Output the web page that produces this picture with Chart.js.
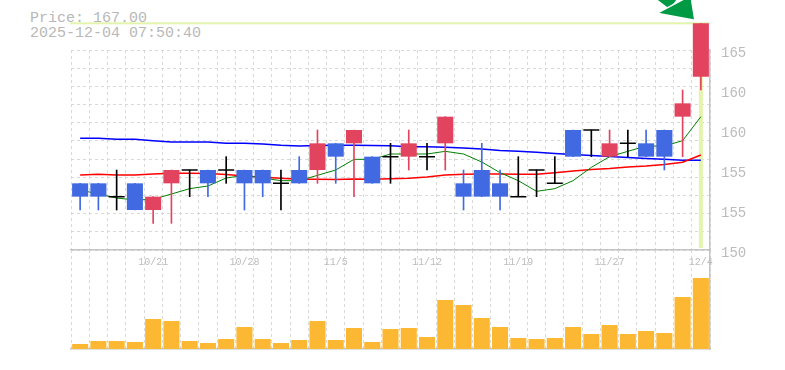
<!DOCTYPE html>
<html><head><meta charset="utf-8">
<script src="https://cdn.jsdelivr.net/npm/chart.js@4.4.1/dist/chart.umd.min.js"></script>
<style>
html,body{margin:0;padding:0;background:#fff;}
#wrap{position:relative;width:785px;height:370px;overflow:hidden;background:#fff;}
#wrap canvas{position:absolute;left:0;top:0;}
#hdr{position:absolute;left:30px;top:11px;font:15px/15px "Liberation Mono",monospace;color:#b8b8b8;white-space:pre;}
</style></head><body>
<div id="wrap">
<div id="hdr"><div id="hPrice"></div><div id="hTime"></div></div>
<canvas id="vol" width="785" height="370"></canvas>
<canvas id="price" width="785" height="370"></canvas>
</div>
<script>
// ---- data ----
const dates = ['10/15','10/16','10/17','10/20','10/21','10/22','10/23','10/24','10/27','10/28','10/29','10/30','10/31','11/4','11/5','11/6','11/7','11/10','11/11','11/12','11/13','11/14','11/17','11/18','11/19','11/20','11/21','11/25','11/26','11/27','11/28','12/1','12/2','12/3','12/4'];
const opens  = [155,155,154,155,153,155,156,156,156,156,156,155,156,156,158,158,157,157,157,157,158,155,156,155,154,156,155,159,159,157,158,158,159,160,163];
const highs  = [155,155,156,155,154,156,156,156,157,156,156,156,157,159,158,159,157,158,159,158,160,156,158,156,157,156,157,159,159,159,159,159,159,162,167];
const lows   = [153,153,153,153,152,152,154,154,155,153,154,153,155,155,155,154,155,155,156,156,156,153,154,153,154,154,155,157,157,157,157,157,156,157,162];
const closes = [154,154,154,153,154,156,156,155,156,155,155,155,155,158,157,159,155,157,158,157,160,154,154,154,154,156,155,157,159,158,158,157,157,161,167];
const volumes = [5000,8000,8000,7000,30000,28000,8000,6000,10000,22000,10000,6000,9000,28000,9000,21000,7000,20000,21000,12000,49000,44000,31000,22000,11000,10000,11000,22000,15000,24000,15000,18000,16000,52000,71000];
const ma5  = [154.5,154.2,153.9,153.75,153.8,154.2,154.6,154.8,155.4,155.6,155.4,155.2,155.2,155.6,156.0,156.8,156.8,157.2,157.2,157.2,157.4,157.2,156.6,155.8,155.2,154.4,154.6,155.2,156.2,157.0,157.4,157.8,157.8,158.2,160.0];
const ma25 = [155.63,155.68,155.63,155.63,155.70,155.75,155.75,155.74,155.66,155.55,155.45,155.38,155.30,155.30,155.29,155.33,155.30,155.34,155.38,155.48,155.63,155.68,155.70,155.70,155.68,155.68,155.80,155.93,156.04,156.11,156.23,156.30,156.41,156.58,157.13];
const ma75 = [158.38,158.38,158.30,158.30,158.19,158.10,158.10,158.10,158.00,158.00,157.95,157.85,157.80,157.84,157.85,157.85,157.84,157.82,157.75,157.75,157.70,157.65,157.58,157.46,157.40,157.33,157.24,157.16,157.09,157.01,156.94,156.86,156.80,156.73,156.73];
const priceTickValues = [150,153,156,159,162,165];
const priceTickLabels = ['150','155','155','160','160','165'];
const xTickLabels = ['10/21','10/28','11/5','11/12','11/19','11/27','12/4'];
const headerTime = '2025-12-04 07:50:40';

// ---- styles ----
const UP = '#e24460', DOWN = '#4169e1', DOJI = '#000000';
const GRID = '#d9d9d9', AXIS = '#c4c4c4', TXT = '#bcbcbc', VOL = '#fdb833', HILITE = '#e3f4ad';
const PRICE_MIN = 150, PRICE_MAX = 165, GRID_DIV = 11, VOL_MAX = 99000;
const N = dates.length;
const isDoji = i => opens[i] === closes[i];
const candleColor = i => isDoji(i) ? DOJI : (closes[i] > opens[i] ? UP : DOWN);
const gridLevels = [];
for (let k = 0; k <= GRID_DIV; k++) gridLevels.push(PRICE_MIN + k * (PRICE_MAX - PRICE_MIN) / GRID_DIV);

document.getElementById('hPrice').textContent = 'Price: ' + closes[N-1].toFixed(2);
document.getElementById('hTime').textContent = headerTime;

const lastMarker = {
  id: 'lastMarker',
  beforeDatasetsDraw(chart) {
    const {ctx, chartArea: a, scales: {x, y}} = chart;
    const px = x.getPixelForValue(N - 1);
    const py = y.getPixelForValue(closes[N - 1]);
    ctx.save();
    ctx.fillStyle = HILITE;
    ctx.fillRect(a.left - 1, py - 1, a.right - a.left + 1, 2);
    ctx.fillRect(px - 2, py, 4, a.bottom - 2 - py);
    ctx.restore();
  },
  afterDatasetsDraw(chart) {
    const {ctx, scales: {x, y}} = chart;
    const px = x.getPixelForValue(N - 1);
    const py = y.getPixelForValue(highs[N - 1]);
    const T = [px - 6, py - 3], B1 = [px - 44, py - 10], B2 = [px - 10, py - 28];
    const M = [(B1[0] + B2[0]) / 2, (B1[1] + B2[1]) / 2];
    let dx = T[0] - M[0], dy = T[1] - M[1];
    const L = Math.hypot(dx, dy); dx /= L; dy /= L;
    const nx = -dy, ny = dx, hw = 7, back = 40;
    ctx.save();
    ctx.fillStyle = '#009944';
    ctx.strokeStyle = '#ffffff';
    ctx.lineWidth = 1.5;
    ctx.beginPath();
    ctx.moveTo(M[0] + nx * hw, M[1] + ny * hw);
    ctx.lineTo(M[0] + nx * hw - dx * back, M[1] + ny * hw - dy * back);
    ctx.lineTo(M[0] - nx * hw - dx * back, M[1] - ny * hw - dy * back);
    ctx.lineTo(M[0] - nx * hw, M[1] - ny * hw);
    ctx.closePath();
    ctx.fill(); ctx.stroke();
    ctx.beginPath();
    ctx.moveTo(T[0], T[1]); ctx.lineTo(B1[0], B1[1]); ctx.lineTo(B2[0], B2[1]);
    ctx.closePath();
    ctx.fill(); ctx.stroke();
    ctx.restore();
  }
};

new Chart(document.getElementById('price'), {
  data: {
    labels: dates,
    datasets: [
      {type: 'line', label: 'MA75', data: ma75, borderColor: '#0000ff', borderWidth: 1.5, pointRadius: 0, tension: 0, yAxisID: 'y', order: 10},
      {type: 'line', label: 'MA25', data: ma25, borderColor: '#ff0000', borderWidth: 1.5, pointRadius: 0, tension: 0, yAxisID: 'y', order: 9},
      {type: 'line', label: 'MA5', data: ma5, borderColor: '#008000', borderWidth: 1, pointRadius: 0, tension: 0, yAxisID: 'y', order: 8},
      {type: 'bar', label: 'wick', data: dates.map((_, i) => [lows[i], highs[i]]), backgroundColor: dates.map((_, i) => candleColor(i)), barThickness: 1, grouped: false, clip: false, yAxisID: 'y', order: 5},
      {type: 'bar', label: 'body', data: dates.map((_, i) => isDoji(i) ? null : [opens[i], closes[i]]), backgroundColor: dates.map((_, i) => candleColor(i)), categoryPercentage: 1, barPercentage: 0.88, grouped: false, clip: false, yAxisID: 'y', order: 2},
      {type: 'line', label: 'doji', data: dates.map((_, i) => isDoji(i) ? closes[i] : null), showLine: false, pointStyle: 'line', pointRadius: 8, pointBorderColor: DOJI, pointBorderWidth: 1.5, yAxisID: 'y', order: 1}
    ]
  },
  options: {
    responsive: false, animation: false, events: [],
    layout: {padding: {left: 71, right: 0, top: 50, bottom: 100}},
    plugins: {legend: {display: false}, tooltip: {enabled: false}},
    scales: {
      x: {
        type: 'category', offset: true,
        grid: {offset: true, color: GRID, lineWidth: 1, drawTicks: false},
        border: {display: true, color: AXIS, width: 1.5, dash: [3, 3]},
        ticks: {autoSkip: false, maxRotation: 0, minRotation: 0, padding: 6, color: TXT,
          font: {family: 'Liberation Mono', size: 10},
          callback: (v, i) => xTickLabels.includes(dates[i]) ? dates[i] : ''},
        afterFit: s => { s.height = 20; }
      },
      yGrid: {
        type: 'linear', position: 'left', min: PRICE_MIN, max: PRICE_MAX,
        grid: {color: GRID, lineWidth: 1, drawTicks: false},
        border: {display: false, dash: [3, 3]},
        ticks: {display: false},
        afterBuildTicks: s => { s.ticks = gridLevels.map(v => ({value: v})); },
        afterFit: s => { s.width = 0; }
      },
      y: {
        type: 'linear', position: 'right', min: PRICE_MIN, max: PRICE_MAX,
        grid: {display: false, drawTicks: false},
        border: {display: true, color: AXIS, width: 1.5},
        ticks: {padding: 11, labelOffset: 3, color: TXT, font: {family: 'Liberation Mono', size: 14},
          callback: (v, i) => priceTickLabels[i]},
        afterBuildTicks: s => { s.ticks = priceTickValues.map(v => ({value: v})); },
        afterFit: s => { s.width = 75; }
      }
    }
  },
  plugins: [lastMarker]
});

new Chart(document.getElementById('vol'), {
  type: 'bar',
  data: {labels: dates, datasets: [{label: 'volume', data: volumes, backgroundColor: VOL, categoryPercentage: 1, barPercentage: 0.88}]},
  options: {
    responsive: false, animation: false, events: [],
    layout: {padding: {left: 71, right: 0, top: 250, bottom: 21}},
    plugins: {legend: {display: false}, tooltip: {enabled: false}},
    scales: {
      x: {
        offset: true,
        grid: {offset: true, color: GRID, lineWidth: 1, drawTicks: false},
        border: {display: true, color: AXIS, width: 1.5, dash: [3, 3]},
        ticks: {display: false},
        afterFit: s => { s.height = 0; }
      },
      y: {
        position: 'right', min: 0, max: VOL_MAX,
        grid: {display: false, drawTicks: false},
        border: {display: true, color: AXIS, width: 1.5},
        ticks: {display: false},
        afterFit: s => { s.width = 75; }
      }
    }
  }
});
</script>
</body></html>
